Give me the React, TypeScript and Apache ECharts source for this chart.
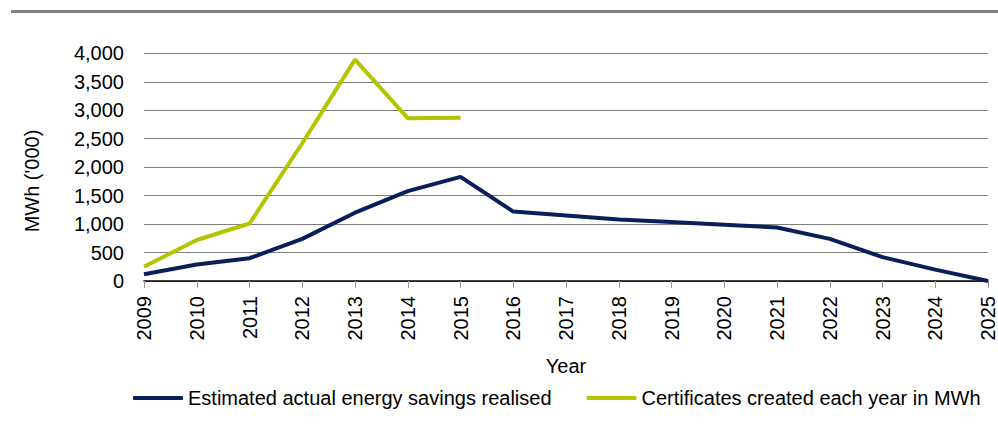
import React, { useEffect, useRef } from "react";
import * as echarts from "echarts";

const years = ["2009","2010","2011","2012","2013","2014","2015","2016","2017","2018","2019","2020","2021","2022","2023","2024","2025"];
const savingsRealised = [120, 290, 400, 740, 1200, 1580, 1830, 1220, 1150, 1080, 1035, 990, 940, 740, 420, 200, 0];
const certificatesCreated = [250, 720, 1010, 2420, 3890, 2860, 2870, null, null, null, null, null, null, null, null, null, null];
const seriesNames = ["Estimated actual energy savings realised", "Certificates created each year in MWh"];

const FONT = "Liberation Sans, Arial, sans-serif";

export default function App() {
  const ref = useRef<HTMLDivElement>(null);
  useEffect(() => {
    document.body.style.margin = "0";
    const chart = echarts.init(ref.current!, undefined, { renderer: "svg" });
    chart.setOption({
      animation: false,
      backgroundColor: "#ffffff",
      textStyle: { fontFamily: FONT },
      grid: { left: 144, right: 10, top: 53.3, bottom: 157, containLabel: false },
      graphic: [
        { type: "rect", shape: { x: 11, y: 10, width: 987, height: 3 }, style: { fill: "#808080" } },
        {
          type: "text",
          x: 32,
          y: 181,
          rotation: Math.PI / 2,
          style: { text: "MWh ('000)", fontSize: 20, fontFamily: FONT, fill: "#000", align: "center", verticalAlign: "middle" },
        },
      ],
      legend: {
        left: 133,
        top: 388,
        padding: 0,
        icon: "roundRect",
        itemWidth: 50,
        itemHeight: 4,
        itemGap: 35,
        textStyle: { fontSize: 20, fontFamily: FONT, color: "#000" },
        data: seriesNames,
      },
      xAxis: {
        type: "category",
        data: years,
        boundaryGap: false,
        name: "Year",
        nameLocation: "middle",
        nameGap: 75,
        nameTextStyle: { fontSize: 20, fontFamily: FONT, color: "#000" },
        axisLine: { lineStyle: { color: "#000", width: 1.5 } },
        axisTick: { show: true, length: 7, lineStyle: { color: "#999" } },
        axisLabel: { rotate: 90, fontSize: 20, fontFamily: FONT, color: "#000", margin: 15 },
        splitLine: { show: false },
      },
      yAxis: {
        type: "value",
        min: 0,
        max: 4000,
        interval: 500,
        axisLine: { show: false },
        axisTick: { show: false },
        axisLabel: {
          fontSize: 20,
          fontFamily: FONT,
          color: "#000",
          margin: 20,
          formatter: (v: number) => v.toLocaleString("en-US"),
        },
        splitLine: { lineStyle: { color: "#7f7f7f", width: 1 } },
      },
      series: [
        {
          name: seriesNames[0],
          type: "line",
          data: savingsRealised,
          symbol: "none",
          lineStyle: { color: "#0a1f5a", width: 4 },
          itemStyle: { color: "#0a1f5a" },
        },
        {
          name: seriesNames[1],
          type: "line",
          data: certificatesCreated,
          symbol: "none",
          lineStyle: { color: "#b5c400", width: 4 },
          itemStyle: { color: "#b5c400" },
        },
      ],
    });
    return () => chart.dispose();
  }, []);
  return <div ref={ref} style={{ position: "fixed", left: 0, top: 0, width: 998, height: 438 }} />;
}
